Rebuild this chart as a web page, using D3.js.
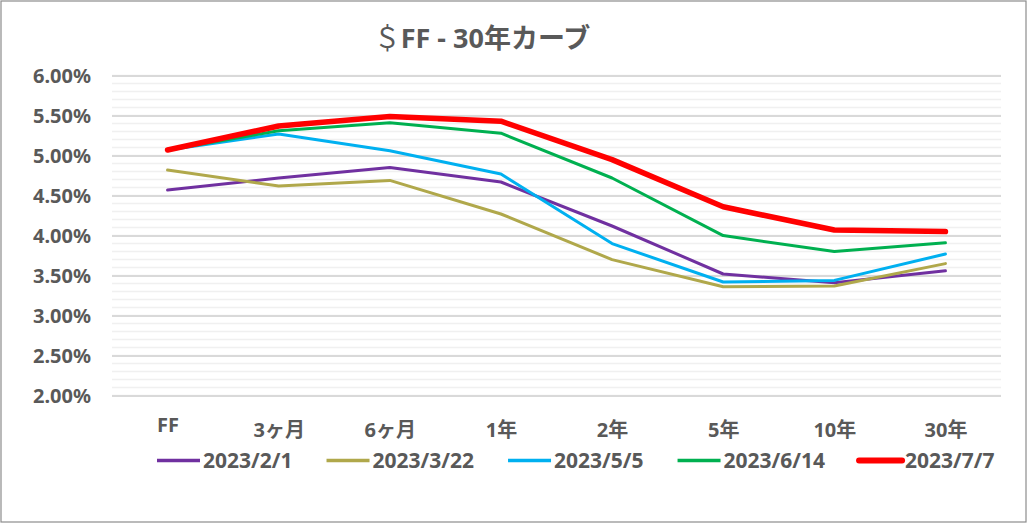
<!DOCTYPE html>
<html>
<head>
<meta charset="utf-8">
<script src="https://cdn.jsdelivr.net/npm/d3@7"></script>
<style>
  html, body { margin: 0; padding: 0; background: #fff; }
  svg { display: block; font-family: "Noto Sans", "Noto Sans CJK JP", sans-serif; }
</style>
</head>
<body>
<div id="curve_figure"></div>
<script>
// tenors on the x axis
var tenors = ["FF", "3ヶ月", "6ヶ月", "1年", "2年", "5年", "10年", "30年"];

// yields (%)
var dates = ["2023/2/1", "2023/3/22", "2023/5/5", "2023/6/14", "2023/7/7"];
var y20230201 = [4.57, 4.72, 4.85, 4.67, 4.12, 3.52, 3.41, 3.56];
var y20230322 = [4.82, 4.62, 4.69, 4.27, 3.70, 3.36, 3.37, 3.65];
var y20230505 = [5.07, 5.27, 5.06, 4.77, 3.90, 3.42, 3.44, 3.77];
var y20230614 = [5.07, 5.31, 5.41, 5.28, 4.72, 4.00, 3.80, 3.91];
var y20230707 = [5.07, 5.37, 5.49, 5.43, 4.95, 4.36, 4.07, 4.05];

var yTicks = [2.0, 2.5, 3.0, 3.5, 4.0, 4.5, 5.0, 5.5, 6.0];
var yMinor = d3.range(20, 61).map(function(d) { return d / 10; });

var seriesValues = [y20230201, y20230322, y20230505, y20230614, y20230707];
var colors = ["#7030A0", "#B0A84B", "#00B0F0", "#00B050", "#FF0000"];
var widths = [3, 3, 3, 3, 5.5];

var textColor = "#595959";

var W = 1028, H = 524;
var svg = d3.select("#curve_figure")
    .append("svg")
    .attr("width", W)
    .attr("height", H);

// outer border
svg.append("rect")
    .attr("x", 1).attr("y", 1)
    .attr("width", 1025).attr("height", 521)
    .attr("fill", "#fff")
    .attr("stroke", "#8c8c8c")
    .attr("stroke-width", 1.2);

// scales
var xScale = d3.scalePoint().domain(tenors).range([112, 1001]).padding(0.5);
var yScale = d3.scaleLinear().domain([2, 6]).range([395.6, 75.6]);

// minor grid every 0.1%
svg.append("g")
    .selectAll("line")
    .data(yMinor)
    .enter().append("line")
    .attr("x1", 112).attr("x2", 1001)
    .attr("y1", function(d) { return yScale(d); })
    .attr("y2", function(d) { return yScale(d); })
    .attr("stroke", "#f0f0f0")
    .attr("stroke-width", 1.5);

// major grid + labels via axis
var yAxis = d3.axisLeft(yScale)
    .tickValues(yTicks)
    .tickSize(-889)
    .tickPadding(21)
    .tickFormat(function(d) { return d.toFixed(2) + "%"; });

var gy = svg.append("g")
    .attr("transform", "translate(112,0)")
    .call(yAxis);
gy.select(".domain").remove();
gy.selectAll(".tick line")
    .attr("stroke", "#d9d9d9")
    .attr("stroke-width", 2);
gy.selectAll(".tick text")
    .attr("fill", textColor)
    .attr("font-size", 20)
    .attr("font-weight", "bold")
    .attr("font-family", "'Noto Sans', sans-serif");

// x axis labels
var xAxis = d3.axisBottom(xScale).tickSize(0).tickPadding(0);
var gx = svg.append("g")
    .attr("transform", "translate(0,395.6)")
    .call(xAxis);
gx.select(".domain").remove();
gx.selectAll(".tick text")
    .attr("y", 0)
    .attr("dy", function(d) { return d === "FF" ? 36 : 41; })
    .attr("fill", textColor)
    .attr("font-size", 20)
    .attr("font-weight", "bold")
    .attr("font-family", "'Noto Sans', 'Noto Sans CJK JP', sans-serif");

// lines
var line = d3.line()
    .x(function(d, i) { return xScale(tenors[i]); })
    .y(function(d) { return yScale(d); });

svg.append("g")
    .selectAll("path")
    .data(seriesValues)
    .enter().append("path")
    .attr("d", line)
    .attr("fill", "none")
    .attr("stroke", function(d, i) { return colors[i]; })
    .attr("stroke-width", function(d, i) { return widths[i]; })
    .attr("stroke-linejoin", "round")
    .attr("stroke-linecap", "round");

// title
var title = svg.append("text")
    .attr("x", 482)
    .attr("y", 48)
    .attr("text-anchor", "middle")
    .attr("fill", textColor)
    .attr("font-size", 27)
    .attr("font-weight", "bold");
title.append("tspan").attr("font-weight", "normal").text("＄");
title.append("tspan").text("FF - 30年カーブ");

// legend
var legend = svg.append("g").attr("transform", "translate(0,460.5)");
var lx = 157;
dates.forEach(function(name, i) {
    legend.append("line")
        .attr("x1", lx).attr("x2", lx + 43)
        .attr("y1", 0).attr("y2", 0)
        .attr("stroke", colors[i])
        .attr("stroke-width", i === 4 ? 6 : 3.5)
        .attr("stroke-linecap", i === 4 ? "round" : "butt");
    var t = legend.append("text")
        .attr("x", lx + 46)
        .attr("y", 7.5)
        .attr("fill", textColor)
        .attr("font-size", 21)
        .attr("font-weight", "bold")
        .text(name);
    lx += 46 + t.node().getComputedTextLength() + 34;
});
</script>
</body>
</html>
